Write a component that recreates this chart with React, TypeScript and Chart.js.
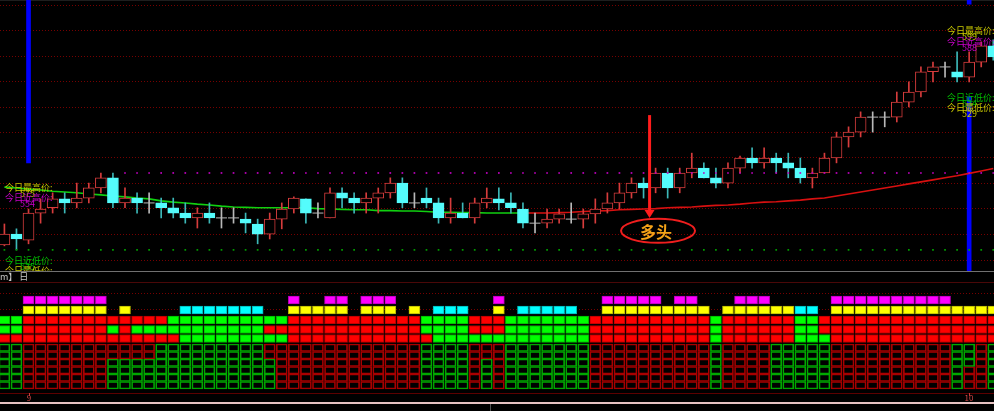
import { useEffect, useRef } from "react";
import { Chart, registerables } from "chart.js";

Chart.register(...registerables);

// ---------- price bars (one per trading bar) ----------
const opens = [
  536.2, 538.9, 537.4, 544.1, 545.4, 547.6, 546.6, 547.8, 550.3, 552.8,
  546.6, 547.8, 546.6, 546.6, 545.4, 544.1, 542.9, 544.1, 542.9, 542.9,
  542.6, 541.4, 538.9, 542.6, 545.1, 547.6, 544.1, 542.9, 549.1, 547.8,
  546.6, 547.8, 549.1, 551.5, 546.6, 547.8, 546.6, 542.9, 544.1, 542.9,
  546.6, 547.6, 546.6, 545.1, 541.6, 541.6, 542.6, 542.6, 542.6, 543.9,
  545.1, 546.6, 549.1, 551.5, 550.3, 554.0, 550.3, 554.0, 555.2, 552.8,
  551.5, 555.2, 557.7, 556.5, 557.7, 556.5, 555.2, 552.8, 554.0, 557.7,
  562.9, 564.1, 567.8, 567.8, 567.8, 571.5, 574.0, 579.0, 580.2, 579.0,
  577.7, 581.4, 585.4,
];
const closes = [
  538.9, 537.7, 544.1, 545.1, 547.6, 546.6, 547.8, 550.3, 552.8, 546.6,
  547.8, 546.6, 546.6, 545.4, 544.1, 542.9, 544.1, 542.9, 542.9, 542.9,
  541.6, 538.9, 542.6, 545.1, 547.8, 544.1, 544.1, 549.1, 547.8, 546.6,
  547.8, 549.1, 551.5, 546.6, 546.6, 546.6, 542.9, 544.1, 542.9, 546.6,
  547.8, 546.6, 545.4, 541.6, 541.6, 542.6, 543.9, 542.6, 543.9, 545.1,
  546.6, 549.1, 551.5, 550.3, 554.0, 550.3, 554.0, 555.2, 552.8, 551.5,
  555.2, 557.7, 556.5, 557.7, 556.5, 555.2, 552.8, 554.0, 557.7, 562.9,
  564.1, 567.8, 567.8, 567.8, 571.5, 574.0, 579.0, 580.2, 580.2, 577.7,
  581.4, 585.4, 582.7,
];
const highs = [
  541.4, 540.2, 545.1, 547.6, 549.1, 549.1, 551.5, 551.5, 554.0, 554.0,
  550.3, 549.1, 549.1, 547.8, 547.8, 546.6, 545.4, 546.6, 545.4, 545.4,
  544.1, 542.6, 544.1, 546.6, 548.1, 547.6, 546.6, 550.3, 550.3, 549.1,
  549.1, 550.3, 552.8, 552.8, 549.1, 550.3, 547.8, 547.8, 546.6, 547.8,
  550.3, 550.3, 549.1, 546.6, 544.1, 545.1, 545.1, 546.6, 545.1, 547.6,
  549.1, 551.5, 552.8, 552.8, 555.2, 555.2, 555.2, 558.9, 556.5, 555.2,
  556.5, 558.2, 560.2, 560.2, 558.9, 558.9, 557.7, 555.2, 558.9, 564.1,
  565.4, 569.1, 569.1, 569.1, 574.0, 576.5, 580.2, 581.4, 581.4, 583.9,
  583.9, 586.4, 586.9,
];
const lows = [
  536.0, 535.0, 536.5, 541.6, 544.1, 544.1, 545.4, 546.6, 549.1, 545.4,
  545.4, 544.1, 544.1, 542.9, 542.9, 541.6, 540.4, 541.6, 540.4, 541.6,
  539.2, 536.5, 537.7, 540.2, 544.1, 541.6, 542.9, 542.9, 545.4, 544.1,
  544.1, 544.1, 547.8, 545.4, 545.4, 545.4, 541.6, 541.6, 542.9, 541.6,
  545.4, 544.9, 544.1, 540.4, 539.2, 540.4, 541.6, 541.6, 540.4, 541.6,
  544.1, 545.1, 547.8, 547.8, 549.1, 547.8, 549.1, 552.8, 552.8, 550.3,
  550.3, 554.0, 555.2, 555.2, 554.0, 552.8, 551.5, 550.3, 554.0, 556.5,
  560.4, 562.9, 564.1, 565.4, 566.6, 570.3, 572.8, 576.5, 577.7, 576.5,
  576.5, 580.2, 581.9,
];
const maValues = [
  550.5, 550.3, 550.0, 549.8, 549.5, 549.3, 549.1, 548.8, 548.6, 548.3,
  548.1, 547.8, 547.6, 547.1, 546.8, 546.6, 546.3, 546.1, 545.8, 545.6,
  545.5, 545.4, 545.4, 545.4, 545.4, 545.4, 545.2, 545.1, 545.0, 544.9,
  544.9, 544.7, 544.7, 544.6, 544.6, 544.5, 544.3, 544.3, 544.2, 544.2,
  544.1, 544.1, 544.1, 544.1, 544.1, 544.1, 544.2, 544.3, 544.5, 544.6,
  544.7, 544.9, 545.0, 545.1, 545.2, 545.4, 545.5, 545.6, 545.8, 546.0,
  546.1, 546.3, 546.6, 546.8, 546.9, 547.1, 547.3, 547.6, 547.8, 548.3,
  548.8, 549.3, 549.8, 550.3, 550.8, 551.3, 551.8, 552.3, 552.8, 553.3,
  553.9, 554.5, 555.1,
];
const maTurnIndex = 43;

const nearHighLevel = 554.0;
const nearLowLevel = 535.0;
const nearHighFrom = 10;

const monthStartIndex = [2, 80];
const monthLabels = ["9", "10"];
const signalIndex = [2, 80, 80];
const signalLow = [556.5, 529.8, 595.7];
const signalHigh = [596.7, 572.8, 596.7];

const arrowIndex = 53.5;
const arrowTop = 568.3;
const arrowTip = 542.9;
const badgeIndex = 54.2;
const badgeValue = 539.7;
const badgeText = "多头";

const leftTopNames = ["今日最高价:", "今日近高价:"];
const leftTopValues = ["575", "554"];
const leftBottomNames = ["今日近低价:", "今日最低价:"];
const leftBottomValues = ["535", ""];
const rightNames = ["今日最高价:", "今日近高价:", "今日近低价:", "今日最低价:"];
const rightValues = ["599", "588", "534", "529"];

// ---------- indicator cells (run-length: count + code) ----------
const rowA = "2. 7M 15. 1M 2. 2M 1. 3M 8. 1M 8. 5M 1. 2M 3. 3M 5. 10M 4.";
const rowB = "2. 7Y 1. 1Y 4. 7C 2. 5Y 1. 3Y 1. 1Y 1. 3C 2. 1Y 1. 5C 2. 9Y 1. 6Y 2C 1. 14Y";
const rowC = "2G 12R 10G 11R 4G 3R 7G 10R 1G 6R 2G 15R";
const rowD = "2G 7R 1G 1R 11G 13R 4G 3R 7G 10R 1G 6R 2G 15R";
const rowE = "15R 9G 12R 13G 10R 1G 6R 3G 14R";
const outlineRow = "2G 7R 4M 9G 1M 12R 4G 1R 1M 1R 7G 10R 1G 4R 5G 10R 1G 1N 1R 1G";

// ---------- styles ----------
const UP = "#d63c3c";
const DOWN_BODY = "#54fcfc";
const DOWN_WICK = "#3cb8b8";
const DOJI = "#b8b8b8";
const MA_GREEN = "#10d010";
const MA_RED = "#d81010";
const YEL = "#c8c800";
const MAG = "#c800c8";
const GRN = "#00c000";
const FONT = '"Noto Sans CJK SC", "Noto Sans", sans-serif';

const X_MIN = -0.365;
const X_MAX = 82.06;

const N = opens.length;
const idx = opens.map((_, i) => i);
const isDoji = (i: number) => opens[i] === closes[i];
const isUp = (i: number) => closes[i] > opens[i];
const bodyIdx = idx.filter((i) => !isDoji(i));
const dojiIdx = idx.filter((i) => isDoji(i));

function expand(s: string): string {
  return s
    .split(" ")
    .map((t) => {
      const n = parseInt(t, 10);
      const ch = t.replace(/^\d+/, "");
      return ch.repeat(n);
    })
    .join("");
}

function nameColor(name: string) {
  if (name.includes("近高")) return MAG;
  if (name.includes("近低")) return GRN;
  return YEL;
}

const mainPlugin = {
  id: "mainAnnot",
  afterDatasetsDraw(chart: any) {
    const { ctx } = chart;
    const xs = chart.scales.x;
    const ys = chart.scales.y;
    ctx.save();
    // arrow
    const ax = xs.getPixelForValue(arrowIndex);
    const aTop = ys.getPixelForValue(arrowTop);
    const aTip = ys.getPixelForValue(arrowTip);
    ctx.strokeStyle = "#ff1c1c";
    ctx.fillStyle = "#ff1c1c";
    ctx.lineWidth = 3;
    ctx.beginPath();
    ctx.moveTo(ax, aTop);
    ctx.lineTo(ax, aTip - 7);
    ctx.stroke();
    ctx.beginPath();
    ctx.moveTo(ax - 5, aTip - 8);
    ctx.lineTo(ax + 5, aTip - 8);
    ctx.lineTo(ax, aTip);
    ctx.closePath();
    ctx.fill();
    // badge
    const bx = xs.getPixelForValue(badgeIndex);
    const by = ys.getPixelForValue(badgeValue);
    ctx.lineWidth = 2;
    ctx.strokeStyle = "#f01e1e";
    ctx.beginPath();
    ctx.ellipse(bx, by, 37, 12, 0, 0, Math.PI * 2);
    ctx.stroke();
    ctx.font = `bold 16px ${FONT}`;
    ctx.fillStyle = "#f5a218";
    ctx.textAlign = "center";
    ctx.textBaseline = "middle";
    ctx.fillText(badgeText, bx - 2, by + 1);
    // price labels
    ctx.font = `9px ${FONT}`;
    ctx.textAlign = "left";
    ctx.textBaseline = "top";
    const put = (t: string, x: number, y: number, c: string) => {
      if (!t) return;
      ctx.fillStyle = c;
      ctx.fillText(t, x, y);
    };
    const leftTopY = [183, 193];
    leftTopNames.forEach((n, k) => {
      put(n, 5, leftTopY[k], nameColor(n));
      put(leftTopValues[k], 20, leftTopY[k] + 6, nameColor(n));
    });
    const leftBotY = [256, 266];
    leftBottomNames.forEach((n, k) => {
      put(n, 5, leftBotY[k], nameColor(n));
      put(leftBottomValues[k], 20, leftBotY[k] + 6, nameColor(n));
    });
    const rightY = [26, 37, 93, 103];
    rightNames.forEach((n, k) => {
      put(n, 947, rightY[k], nameColor(n));
      put(rightValues[k], 962, rightY[k] + 6, nameColor(n));
    });
    ctx.restore();
  },
};

const subPlugin = {
  id: "subAnnot",
  afterDraw(chart: any) {
    const { ctx } = chart;
    const xs = chart.scales.x;
    ctx.save();
    ctx.fillStyle = "#4a0808";
    ctx.fillRect(0, 0, 994, 1);
    ctx.fillStyle = "#5c0000";
    ctx.fillRect(0, 111, 994, 1);
    ctx.fillStyle = "#e6c2c2";
    ctx.fillRect(0, 120, 994, 2);
    ctx.fillStyle = "#505050";
    ctx.fillRect(490, 122, 1, 7);
    ctx.font = `8px ${FONT}`;
    ctx.textAlign = "center";
    ctx.textBaseline = "top";
    monthStartIndex.forEach((m, k) => {
      const px = Math.round(xs.getPixelForValue(m));
      ctx.fillStyle = "#c83c3c";
      ctx.fillRect(px, 111, 1, 3);
      ctx.fillStyle = "#d24848";
      ctx.fillText(monthLabels[k], px, 112);
    });
    ctx.restore();
  },
};

function xScale() {
  return { type: "linear", min: X_MIN, max: X_MAX, display: false, offset: false };
}

function mainConfig(): any {
  return {
    type: "bar",
    data: {
      datasets: [
        {
          type: "line",
          label: "近低",
          data: idx.map((i) => ({ x: i, y: nearLowLevel })),
          showLine: false,
          pointStyle: "rect",
          pointRadius: 1.2,
          pointBackgroundColor: "#00a000",
          pointBorderWidth: 0,
          order: 4,
          clip: false,
        },
        {
          type: "line",
          label: "近高",
          data: idx.filter((i) => i >= nearHighFrom).map((i) => ({ x: i, y: nearHighLevel })),
          showLine: false,
          pointStyle: "rect",
          pointRadius: 1.2,
          pointBackgroundColor: "#c000c0",
          pointBorderWidth: 0,
          order: 5,
          clip: false,
        },
        {
          type: "line",
          label: "doji",
          data: dojiIdx.map((i) => ({ x: i, y: closes[i] })),
          showLine: false,
          pointStyle: "line",
          pointRadius: 5.5,
          pointBorderColor: DOJI,
          pointBorderWidth: 1,
          order: 6,
          clip: false,
        },
        {
          type: "bar",
          label: "body",
          data: bodyIdx.map((i) => ({ x: i, y: [opens[i], closes[i]] })),
          backgroundColor: bodyIdx.map((i) => (isUp(i) ? "#000000" : DOWN_BODY)),
          borderColor: bodyIdx.map((i) => (isUp(i) ? UP : DOWN_BODY)),
          borderWidth: 1,
          borderSkipped: false,
          barThickness: 11,
          grouped: false,
          order: 7,
          clip: false,
        },
        {
          type: "bar",
          label: "wick",
          data: idx.map((i) => ({ x: i, y: [lows[i], highs[i]] })),
          backgroundColor: idx.map((i) => (isDoji(i) ? DOJI : isUp(i) ? UP : DOWN_WICK)),
          borderWidth: 0,
          barThickness: 1,
          grouped: false,
          order: 8,
          clip: false,
        },
        {
          type: "line",
          label: "MA",
          data: idx.map((i) => ({ x: i, y: maValues[i] })),
          borderColor: MA_RED,
          borderWidth: 1.6,
          pointRadius: 0,
          segment: {
            borderColor: (c: any) => (c.p0DataIndex < maTurnIndex ? MA_GREEN : MA_RED),
          },
          order: 9,
          clip: false,
        },
        {
          type: "bar",
          label: "signal",
          data: signalIndex.map((x, k) => ({ x, y: [signalLow[k], signalHigh[k]] })),
          backgroundColor: "#0000ff",
          borderWidth: 0,
          barThickness: 4,
          grouped: false,
          order: 10,
          clip: false,
        },
      ],
    },
    options: {
      responsive: false,
      animation: false,
      events: [],
      layout: { autoPadding: false, padding: { top: 5, bottom: 11, left: 0, right: 0 } },
      plugins: { legend: { display: false }, tooltip: { enabled: false } },
      scales: {
        x: xScale(),
        y: {
          type: "linear",
          min: 532.5,
          max: 595.5,
          beginAtZero: false,
          ticks: { display: false, count: 11 },
          grid: { color: "#760000", drawTicks: false, lineWidth: 1 },
          border: { display: false, dash: [1, 2] },
        },
      },
    },
    plugins: [mainPlugin],
  };
}

const FILL: Record<string, [string, string]> = {
  M: ["#ff00ff", "#b400b4"],
  Y: ["#ffff00", "#b4b400"],
  C: ["#00ffff", "#00b4b4"],
  G: ["#00ff00", "#00b400"],
  R: ["#ff0000", "#b40000"],
};
const OUT_R = "#a80000";
const OUT_G = "#00a800";

function subConfig(): any {
  const rows: [string, number, number][] = [
    [rowA, 99, 107],
    [rowB, 89, 97],
    [rowC, 79, 87],
    [rowD, 69.5, 77.5],
    [rowE, 60.5, 68.5],
  ];
  const datasets: any[] = [];
  rows.forEach(([runs, lo, hi], r) => {
    const s = expand(runs);
    const data: any[] = [];
    const bg: string[] = [];
    const bd: string[] = [];
    for (let i = 0; i < N; i++) {
      const ch = s[i];
      if (!ch || ch === ".") continue;
      data.push({ x: i, y: [lo, hi] });
      bg.push(FILL[ch][0]);
      bd.push(FILL[ch][1]);
    }
    datasets.push({
      type: "bar",
      label: "row" + r,
      data,
      backgroundColor: bg,
      borderColor: bd,
      borderWidth: 1,
      borderSkipped: false,
      barThickness: 11,
      grouped: false,
      clip: false,
    });
  });
  const out = expand(outlineRow);
  for (let sr = 0; sr < 6; sr++) {
    const hi = 59 - sr * 7.5;
    const lo = hi - 7.5;
    const colors = idx.map((i) => {
      const ch = out[i];
      if (ch === "M") return sr < 2 ? OUT_R : OUT_G;
      if (ch === "N") return sr < 3 ? OUT_G : OUT_R;
      return ch === "R" ? OUT_R : OUT_G;
    });
    datasets.push({
      type: "bar",
      label: "grid" + sr,
      data: idx.map((i) => ({ x: i, y: [lo, hi] })),
      backgroundColor: "rgba(0,0,0,0)",
      borderColor: colors,
      borderWidth: 1,
      borderSkipped: false,
      barThickness: 11,
      grouped: false,
      clip: false,
    });
  }
  return {
    type: "bar",
    data: { datasets },
    options: {
      responsive: false,
      animation: false,
      events: [],
      layout: { autoPadding: false, padding: 0 },
      plugins: { legend: { display: false }, tooltip: { enabled: false } },
      scales: {
        x: xScale(),
        y: {
          type: "linear",
          min: -8,
          max: 121,
          beginAtZero: false,
          afterBuildTicks: (s: any) => {
            s.ticks = [{ value: 110 }, { value: 93.5 }];
          },
          ticks: { display: false },
          grid: { color: "#760000", drawTicks: false, lineWidth: 1 },
          border: { display: false, dash: [1, 2] },
        },
      },
    },
    plugins: [subPlugin],
  };
}

export default function App() {
  const mainRef = useRef<HTMLCanvasElement>(null);
  const subRef = useRef<HTMLCanvasElement>(null);
  useEffect(() => {
    const main = new Chart(mainRef.current as HTMLCanvasElement, mainConfig());
    const sub = new Chart(subRef.current as HTMLCanvasElement, subConfig());
    return () => {
      main.destroy();
      sub.destroy();
    };
  }, []);
  return (
    <div
      style={{
        position: "fixed",
        left: 0,
        top: 0,
        width: 994,
        height: 411,
        background: "#000",
        overflow: "hidden",
      }}
    >
      <div style={{ position: "absolute", left: 0, top: 0, width: 994, height: 1, background: "#1e1e1e" }} />
      <canvas ref={mainRef} width={994} height={271} style={{ position: "absolute", left: 0, top: 0 }} />
      <div style={{ position: "absolute", left: 0, top: 271, width: 994, height: 1, background: "#707070" }} />
      <div
        style={{
          position: "absolute",
          left: 0,
          top: 272,
          font: `9px ${FONT}`,
          lineHeight: "9px",
          color: "#c8c8c8",
          whiteSpace: "pre",
        }}
      >
        m】 日
      </div>
      <canvas ref={subRef} width={994} height={129} style={{ position: "absolute", left: 0, top: 282 }} />
    </div>
  );
}
